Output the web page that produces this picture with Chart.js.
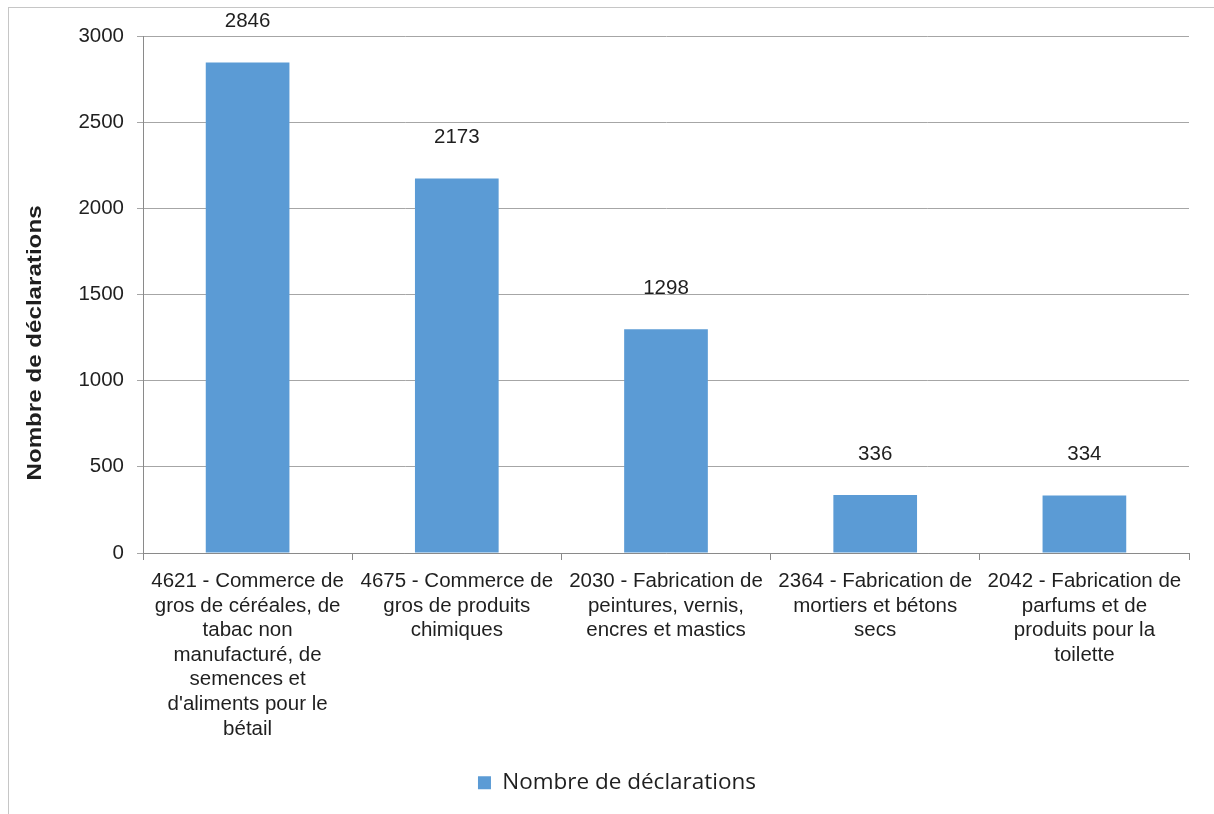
<!DOCTYPE html>
<html>
<head>
<meta charset="utf-8">
<script src="https://cdn.jsdelivr.net/npm/chart.js@4"></script>
<style>
  body { margin: 0; background: #fff; }
  .frame { position: absolute; left: 8px; top: 7px; width: 1300px; height: 900px; border: 1px solid #c6c6c6; }
  .wrap { position: absolute; left: 0; top: 0; width: 1214px; height: 814px; }
</style>
</head>
<body>
<div class="frame"></div>
<div class="wrap"><canvas id="chart" width="1214" height="814"></canvas></div>
<script>
// categories (wrapped like in the original)
const categories = [
  ["4621 - Commerce de", "gros de céréales, de", "tabac non", "manufacturé, de", "semences et", "d'aliments pour le", "bétail"],
  ["4675 - Commerce de", "gros de produits", "chimiques"],
  ["2030 - Fabrication de", "peintures, vernis,", "encres et mastics"],
  ["2364 - Fabrication de", "mortiers et bétons", "secs"],
  ["2042 - Fabrication de", "parfums et de", "produits pour la", "toilette"]
];
const declarations = [2846, 2173, 1298, 336, 334];
const seriesName = "Nombre de déclarations";
const yTitle = "Nombre de déclarations";
const yMin = 0, yMax = 3000, yStep = 500;

const textColor = "#1f1f1f";
const barColor = "#5b9bd5";
const arial = "'Liberation Sans', Arial, sans-serif";
const padBottom = 10;

// labels above bars + rotated y title
const extraText = {
  id: "extraText",
  afterDatasetsDraw(chart) {
    const ctx = chart.ctx;
    const meta = chart.getDatasetMeta(0);
    ctx.save();
    ctx.fillStyle = textColor;
    ctx.font = "20.5px " + arial;
    ctx.textAlign = "center";
    ctx.textBaseline = "middle";
    meta.data.forEach((bar, i) => {
      ctx.fillText(declarations[i], bar.x, bar.y - 41);
    });
    ctx.translate(35, 343);
    ctx.rotate(-Math.PI / 2);
    ctx.scale(1.15, 1);
    ctx.font = "bold 21px " + arial;
    ctx.fillText(yTitle, 0, 0);
    ctx.restore();
  }
};

new Chart(document.getElementById("chart"), {
  type: "bar",
  data: {
    labels: categories,
    datasets: [{
      label: seriesName,
      data: declarations,
      backgroundColor: barColor,
      borderWidth: 0,
      categoryPercentage: 1,
      barPercentage: 0.4
    }]
  },
  options: {
    responsive: false,
    animation: false,
    layout: { padding: { left: 45, right: 25, top: 36, bottom: padBottom } },
    plugins: {
      tooltip: { enabled: false },
      legend: {
        position: "bottom",
        labels: {
          color: textColor,
          font: { family: "'Open Sans', sans-serif", size: 22.5 },
          boxWidth: 13,
          boxHeight: 13,
          padding: 24
        }
      }
    },
    scales: {
      x: {
        grid: {
          offset: true,
          drawOnChartArea: false,
          drawTicks: true,
          tickLength: 7,
          color: "#8a8a8a"
        },
        border: { color: "#8a8a8a" },
        ticks: {
          color: textColor,
          font: { family: arial, size: 20.5, lineHeight: 1.2 },
          maxRotation: 0,
          minRotation: 0,
          autoSkip: false,
          padding: 9
        },
        afterFit(scale) {
          const legendH = scale.chart.legend ? scale.chart.legend.height : 0;
          scale.height = 814 - padBottom - legendH - 553;
        }
      },
      y: {
        min: yMin,
        max: yMax,
        ticks: {
          stepSize: yStep,
          color: textColor,
          font: { family: arial, size: 20.5 },
          padding: 13,
          callback: (v) => String(v)
        },
        grid: { color: "#a6a6a6", tickLength: 6 },
        border: { color: "#8a8a8a" },
        afterFit(scale) {
          scale.width = 143 - 45;
        }
      }
    }
  },
  plugins: [extraText]
});
</script>
</body>
</html>
